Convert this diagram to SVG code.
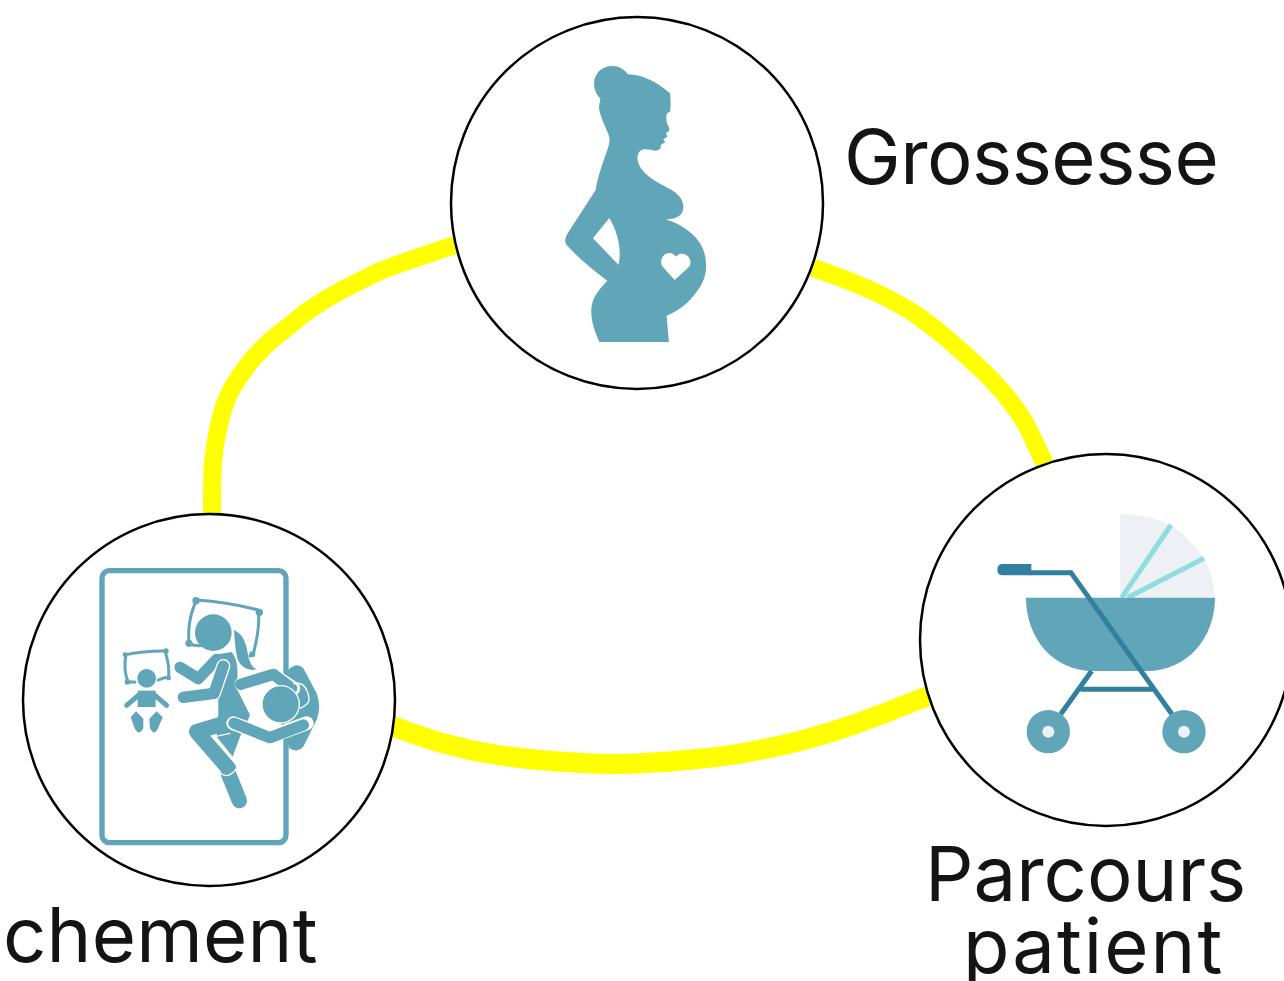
<svg xmlns="http://www.w3.org/2000/svg" width="1284" height="981" viewBox="0 0 1284 981">
<style>
.link{fill:none;stroke:#ffff00;stroke-width:18;stroke-linejoin:round}
.disc{fill:#fff;stroke:#000;stroke-width:2.5}
.t{font-family:"Inter","Liberation Sans",sans-serif;font-size:76px;fill:#141414}
.teal{fill:#60a5b8}
.limb{fill:none;stroke:#60a5b8;stroke-linecap:round;stroke-linejoin:round}
.halo{fill:none;stroke:#fff;stroke-linecap:round;stroke-linejoin:round}
.pil{fill:none;stroke:#60a5b8;stroke-width:9;stroke-linejoin:round;stroke-linecap:round}
</style>
<rect width="1284" height="981" fill="#fff"/>
<g id="connectors">
<path class="link" d="M455 245L425 255Q395 265 378 272Q362 280 342 290Q323 300 305 313Q288 327 275 337Q263 347 250 362Q238 377 230 392Q223 407 219 425Q215 443 213 461Q212 480 212 497L212 516"/>
<path class="link" d="M811 267L830 274Q848 280 875 292Q902 305 918 316Q935 328 951 342Q968 357 985 373Q1002 390 1013 405Q1025 420 1034 441L1046 466"/>
<path class="link" style="stroke-width:20" d="M392 726L414 734Q436 742 458 747Q481 753 512 757Q544 761 581 763Q618 765 644 763Q671 762 697 759Q723 757 754 751Q786 745 811 738Q836 731 858 723Q881 715 905 705L931 695"/>
</g>
<g id="node-grossesse">
<circle class="disc" cx="637" cy="203" r="186"/>
<g transform="translate(540 50) scale(.3333)">
<path class="teal" fill-rule="evenodd" d="M178 876C165 845 152 815 154 775C156 742 180 715 202 692C160 660 115 625 80 585C72 574 76 562 84 548L167 420C172 385 186 345 200 305C207 285 212 272 206 255C195 225 178 195 177 170C178 160 181 152 181 146C165 130 160 108 163 90C170 60 195 46 220 48C240 49 255 60 264 73C310 73 355 100 390 130C392 150 393 170 390 185L381 190C376 205 380 220 388 235C390 245 382 247 378 250L382 260L370 268L376 276L362 285C364 295 360 300 345 302C330 300 310 292 298 305C288 318 292 340 305 358C325 385 365 405 395 420C420 435 432 455 430 475C428 495 412 508 378 508C430 525 478 560 492 605C505 650 498 690 470 725C445 760 415 782 380 797C382 825 384 850 387 876Z
M208 504L159 565L236 645C245 600 235 550 208 504Z
M404 690L368 650C358 635 365 615 382 610C392 607 402 612 408 620C415 610 428 610 438 614C452 622 456 640 446 652Z"/>
</g>
</g>
<g id="node-accouchement">
<circle class="disc" cx="209" cy="700" r="186"/>
<g transform="translate(90 560) scale(.3333)">
<rect x="36" y="32" width="552" height="816" rx="22" fill="#fff" stroke="#60a5b8" stroke-width="16"/>
<path class="pil" d="M108 284Q165 272 225 273C234 300 238 325 236 352C225 352 215 355 205 360M135 366L114 366C104 340 102 315 108 284"/>
<circle class="teal" cx="105" cy="284" r="7"/><circle class="teal" cx="228" cy="273" r="8"/><circle class="teal" cx="112" cy="366" r="8"/><circle class="teal" cx="236" cy="354" r="7"/>
<circle class="teal" cx="170" cy="355" r="28"/>
<path class="limb" stroke-width="15" d="M110 436L145 406H195L230 436"/>
<path class="teal" d="M143 392H197V441H143Z"/>
<path class="teal" d="M138 454L160 476L160 505Q146 530 134 505L122 472ZM200 454L178 476L180 505Q192 530 204 505L218 472Z"/>
<path class="pil" d="M320 120Q410 125 505 150C510 190 502 235 490 282L480 288M345 256C330 258 312 258 298 250C292 210 300 160 320 120"/>
<circle class="teal" cx="318" cy="122" r="11"/><circle class="teal" cx="508" cy="157" r="11"/><circle class="teal" cx="297" cy="250" r="11"/><circle class="teal" cx="487" cy="283" r="9"/>
<circle class="teal" cx="370" cy="218" r="55"/>
<path class="teal" d="M432 210C465 225 470 260 475 290C480 310 488 322 500 328C475 335 450 320 442 295C436 270 434 240 432 210Z"/>
<path class="limb" stroke-width="34" d="M270 322L325 356L380 298"/>
<path class="teal" d="M370 285L425 276C445 300 445 340 440 385L480 465L470 490L450 530L428 590L380 530L385 460L385 380Z"/>
<path class="halo" stroke-width="42" d="M400 318L372 400L280 412"/>
<path class="limb" stroke-width="34" d="M400 318L372 400L280 412"/>
<path class="limb" stroke-width="46" d="M415 625L320 515L440 480"/>
<path class="halo" stroke-width="4" d="M440 610L375 530L420 520"/>
<path class="limb" stroke-width="46" d="M415 640L448 722"/>
<path class="halo" stroke-width="4" d="M392 640Q415 660 442 622"/>
<path class="teal" d="M595 330Q620 305 640 325L680 400Q695 440 680 480L640 560Q620 580 598 565L570 480L570 380Z"/>
<path class="halo" stroke-width="42" d="M455 373L550 345L610 385M430 490L540 530L650 490"/>
<path class="limb" stroke-width="34" d="M452 373L550 343L605 385"/>
<path class="limb" stroke-width="34" d="M432 490L540 533L640 495"/>
<path d="M610 372Q640 362 652 395C662 420 660 432 630 445" fill="none" stroke="#fff" stroke-width="4"/>
<circle class="teal" cx="572" cy="433" r="56" stroke="#fff" stroke-width="4"/>
</g>
</g>
<g id="node-parcours">
<circle class="disc" cx="1106" cy="640" r="186"/>
<g transform="translate(990 505) scale(.3333)">
<path fill="#edf0f5" d="M391 278V27Q470 27 543 60L642 160Q670 210 675 278Z"/>
<path fill="#edf0f5" d="M543 60Q600 100 642 160L400 278Z"/>
<path fill="none" stroke="#8fdde0" stroke-width="15" d="M395 278L543 60M412 278L642 160"/>
<path class="teal" d="M108 278H675C675 400 590 498 470 498H310C190 498 108 400 108 278Z"/>
<path fill="none" stroke="#32809f" stroke-width="15" d="M120 203H243L546 628M305 498L212 628M272 553H490"/>
<path fill="#32809f" d="M38 177H124V211H38Q22 211 22 194Q22 177 38 177Z"/>
<circle class="teal" cx="175" cy="680" r="65"/><circle class="teal" cx="582" cy="680" r="65"/>
<circle cx="175" cy="680" r="18" fill="#edf0f5"/><circle cx="582" cy="680" r="18" fill="#edf0f5"/>
</g>
</g>
<text class="t" x="844" y="184" style="letter-spacing:-.5px">Grossesse</text>
<text class="t" x="3" y="962" style="letter-spacing:.2px">chement</text>
<text class="t" x="925" y="901">Parcours</text>
<text class="t" x="963" y="973" style="letter-spacing:2px">patient</text>
</svg>
